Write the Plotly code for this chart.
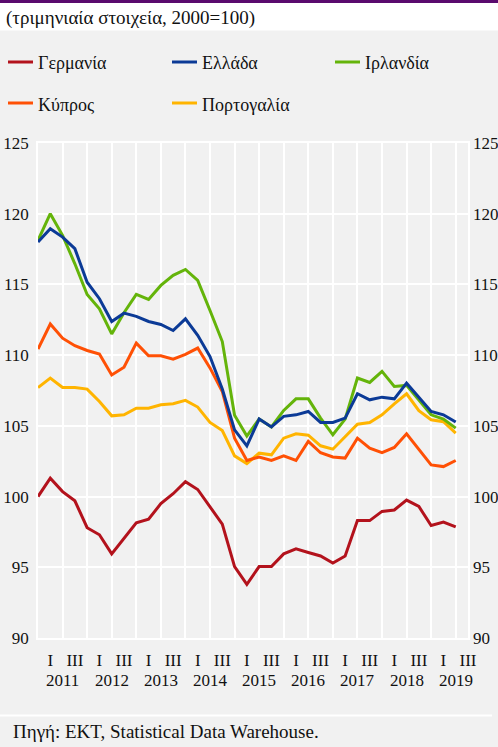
import plotly.graph_objects as go

# ---------------- data ----------------
axis_periods = [
    "2010Q4",
    "2011Q1", "2011Q2", "2011Q3", "2011Q4",
    "2012Q1", "2012Q2", "2012Q3", "2012Q4",
    "2013Q1", "2013Q2", "2013Q3", "2013Q4",
    "2014Q1", "2014Q2", "2014Q3", "2014Q4",
    "2015Q1", "2015Q2", "2015Q3", "2015Q4",
    "2016Q1", "2016Q2", "2016Q3", "2016Q4",
    "2017Q1", "2017Q2", "2017Q3", "2017Q4",
    "2018Q1", "2018Q2", "2018Q3", "2018Q4",
    "2019Q1", "2019Q2", "2019Q3",
]
quarter_labels = {"Q1": "I", "Q3": "III"}
years = ["2011", "2012", "2013", "2014", "2015", "2016", "2017", "2018", "2019"]

germany = [100.0, 101.3, 100.35, 99.7, 97.8, 97.3, 95.95, 97.05, 98.15, 98.4,
           99.5, 100.2, 101.05, 100.5, 99.25, 98.05, 95.05, 93.8, 95.05, 95.05,
           95.95, 96.3, 96.05, 95.8, 95.3, 95.8, 98.3, 98.3, 98.95, 99.05,
           99.75, 99.3, 97.95, 98.2, 97.85]
greece = [118.0, 118.94, 118.35, 117.53, 115.16, 113.99, 112.38, 112.97, 112.74, 112.38,
          112.17, 111.74, 112.57, 111.4, 109.9, 107.6, 104.72, 103.59, 105.48, 104.92,
          105.67, 105.78, 106.02, 105.24, 105.24, 105.55, 107.27, 106.84, 107.03, 106.91,
          108.02, 107.03, 106.02, 105.78, 105.27]
ireland = [118.11, 120.0, 118.47, 116.46, 114.29, 113.28, 111.5, 113.0, 114.29, 113.94,
           114.93, 115.64, 116.06, 115.28, 113.16, 110.96, 105.75, 104.28, 105.48, 104.92,
           106.09, 106.91, 106.91, 105.55, 104.37, 105.48, 108.38, 108.07, 108.85, 107.79,
           107.86, 106.84, 105.78, 105.48, 104.84]
cyprus = [110.43, 112.2, 111.2, 110.67, 110.33, 110.08, 108.6, 109.15, 110.85, 109.95,
          109.95, 109.72, 110.05, 110.5, 109.1, 107.43, 104.13, 102.55, 102.8, 102.55,
          102.88, 102.55, 103.9, 103.1, 102.8, 102.72, 104.13, 103.42, 103.1, 103.47,
          104.44, 103.3, 102.24, 102.12, 102.55]
portugal = [107.71, 108.38, 107.71, 107.71, 107.6, 106.72, 105.71, 105.78, 106.25, 106.25,
            106.49, 106.56, 106.8, 106.33, 105.24, 104.67, 102.88, 102.33, 103.07, 102.95,
            104.13, 104.44, 104.34, 103.59, 103.35, 104.25, 105.12, 105.24, 105.78, 106.56,
            107.27, 106.07, 105.43, 105.29, 104.49]

series_names = ["Γερμανία", "Ελλάδα", "Ιρλανδία", "Κύπρος", "Πορτογαλία"]
series_values = [germany, greece, ireland, cyprus, portugal]
series_colors = ["#b3121c", "#0b3a96", "#64b40a", "#ff5005", "#ffb400"]

title_text = "(τριμηνιαία στοιχεία, 2000=100)"
source_text = "Πηγή: EKT, Statistical Data Warehouse."

# ---------------- layout geometry ----------------
W, H = 498, 747
ML, MR, MT, MB = 38, 30, 143, 109
PW, PH = W - ML - MR, H - MT - MB
FONT = "Liberation Serif, Times New Roman, Times, DejaVu Serif, serif"
BG = "#f1f1f1"
TXT = "#111111"


def px(xp):
    return (xp - ML) / PW


def py(yp):
    return (H - MB - yp) / PH


x_idx = list(range(len(axis_periods)))

fig = go.Figure()
# draw order: last drawn on top
for name, vals, col in reversed(list(zip(series_names, series_values, series_colors))):
    fig.add_trace(go.Scatter(
        x=x_idx[:len(vals)], y=vals, name=name, mode="lines",
        line=dict(color=col, width=3), showlegend=False,
    ))
# invisible trace to activate the right-hand axis
fig.add_trace(go.Scatter(x=x_idx[:1], y=germany[:1], yaxis="y2", mode="markers",
                         marker=dict(opacity=0), showlegend=False, hoverinfo="skip"))

tick_vals, tick_text = [], []
for i, p in enumerate(axis_periods):
    q = p[4:]
    if q in quarter_labels:
        tick_vals.append(i)
        tick_text.append(quarter_labels[q])
grid_vals = [i for i, p in enumerate(axis_periods) if p[4:] in ("Q2", "Q4")]
year_pos = [i for i, p in enumerate(axis_periods) if p[4:] == "Q2"]

shapes = []
annotations = []
# top purple bar and white title band
shapes.append(dict(type="rect", xref="paper", yref="paper", x0=px(0), x1=px(W),
                   y0=py(30.5), y1=py(3), fillcolor="white", line=dict(width=0)))
shapes.append(dict(type="rect", xref="paper", yref="paper", x0=px(0), x1=px(W),
                   y0=py(3), y1=py(0), fillcolor="#5a0a6e", line=dict(width=0)))
# bottom separator
shapes.append(dict(type="line", xref="paper", yref="paper", x0=px(0), x1=px(492),
                   y0=py(715.5), y1=py(715.5), line=dict(color="white", width=2)))

annotations.append(dict(text=title_text, xref="paper", yref="paper", x=px(4), y=py(17.5),
                        xanchor="left", yanchor="middle", showarrow=False,
                        font=dict(family=FONT, size=19, color=TXT)))
annotations.append(dict(text=source_text, xref="paper", yref="paper", x=px(11), y=py(731),
                        xanchor="left", yanchor="middle", showarrow=False,
                        font=dict(family=FONT, size=19, color=TXT)))

# legend (manual, 3 columns)
leg_cols = [8, 172, 335]
leg_rows = [62, 103]
for k, (name, col) in enumerate(zip(series_names, series_colors)):
    cx = leg_cols[k % 3]
    cy = leg_rows[k // 3]
    shapes.append(dict(type="line", xref="paper", yref="paper", x0=px(cx), x1=px(cx + 25),
                       y0=py(cy), y1=py(cy), line=dict(color=col, width=3)))
    annotations.append(dict(text=name, xref="paper", yref="paper", x=px(cx + 28), y=py(cy + 1.5),
                            xanchor="left", yanchor="middle", showarrow=False,
                            font=dict(family=FONT, size=18, color=TXT)))

# year labels
for pos, yr in zip(year_pos, years):
    annotations.append(dict(text=yr, xref="x", yref="paper", x=pos, y=py(680),
                            xanchor="center", yanchor="middle", showarrow=False,
                            font=dict(family=FONT, size=17, color=TXT)))

axis_font = dict(family=FONT, size=17, color=TXT)
fig.update_layout(
    width=W, height=H,
    margin=dict(l=ML, r=MR, t=MT, b=MB, pad=0, autoexpand=False),
    paper_bgcolor=BG, plot_bgcolor=BG,
    font=dict(family=FONT, color=TXT),
    showlegend=False,
    shapes=shapes, annotations=annotations,
    xaxis=dict(range=[0, len(axis_periods) - 1], tickvals=tick_vals, ticktext=tick_text,
               showgrid=False, zeroline=False, ticks="", tickfont=dict(family=FONT, size=17, color=TXT),
               showline=True, linecolor="white", linewidth=1.5, mirror=True,
               ticklabelstandoff=6, automargin=False,
               minor=dict(tickvals=grid_vals, showgrid=True, gridcolor="white", gridwidth=1.5, ticks="")),
    yaxis=dict(range=[90, 125], dtick=5, tick0=90, showgrid=True, gridcolor="white", gridwidth=1.5,
               zeroline=False, ticks="", tickfont=axis_font, showline=True, linecolor="white",
               linewidth=1.5, mirror=True, ticklabelstandoff=4, automargin=False),
    yaxis2=dict(range=[90, 125], dtick=5, tick0=90, overlaying="y", side="right", showgrid=False,
                zeroline=False, ticks="", tickfont=axis_font, showline=False, ticklabelstandoff=4,
                automargin=False),
)

fig.write_html("out.html", config={"displayModeBar": False},
               post_script="document.body.style.margin='0px';")
